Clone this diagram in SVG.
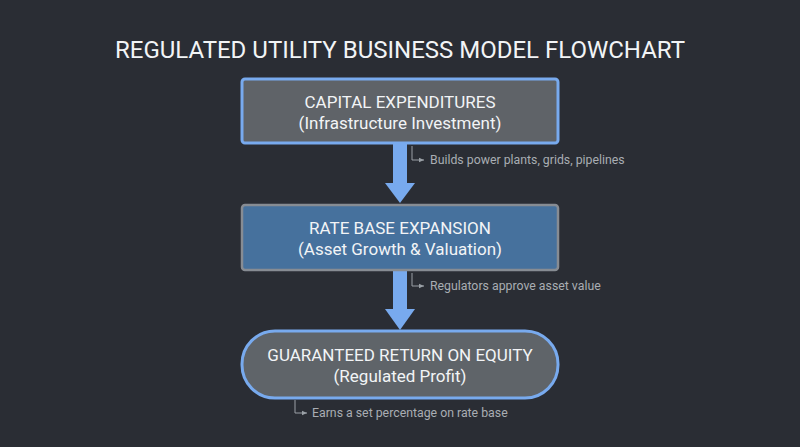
<svg xmlns="http://www.w3.org/2000/svg" width="800" height="447" viewBox="0 0 800 447">
<defs>
<style>
text{font-family:Roboto,"Liberation Sans",sans-serif;text-anchor:middle;fill:#f2f4f6}
.n{font-size:17px}
.a{font-size:12.3px;fill:#a9adb3;text-anchor:start}
.br{fill:none;stroke:#9aa0a6;stroke-width:1}
.sh{fill:#78aaee}
</style>
<marker id="m" markerWidth="6" markerHeight="6" refX="5" refY="3" orient="auto"><path d="M0,0.8 L5,3 L0,5.2z" fill="#9aa0a6"/></marker>
</defs>
<rect width="800" height="447" fill="#2a2d34"/>
<text x="400" y="58" style="font-size:24px" fill="#fff">REGULATED UTILITY BUSINESS MODEL FLOWCHART</text>
<g id="connectors">
<rect class="sh" x="393" y="144" width="14" height="42"/>
<path class="sh" d="M385,183 L415,183 L400,203z"/>
<rect class="sh" x="393" y="271" width="14" height="40"/>
<path class="sh" d="M385,309 L415,309 L400,330z"/>
</g>
<g id="capex">
<rect x="242" y="79" width="316" height="64" rx="3" fill="#5f6368" stroke="#78aaee" stroke-width="3"/>
<text class="n" x="400" y="108">CAPITAL EXPENDITURES</text>
<text class="n" x="400" y="129">(Infrastructure Investment)</text>
</g>
<g id="ratebase">
<rect x="242" y="205" width="316" height="65" rx="3" fill="#46719d" stroke="#878c93" stroke-width="2.5"/>
<text class="n" x="400" y="234">RATE BASE EXPANSION</text>
<text class="n" x="400" y="255">(Asset Growth &amp; Valuation)</text>
</g>
<g id="roe">
<rect x="242" y="331" width="316" height="67" rx="33" fill="#5f6469" stroke="#78aaee" stroke-width="3"/>
<text class="n" x="400" y="361">GUARANTEED RETURN ON EQUITY</text>
<text class="n" x="400" y="382">(Regulated Profit)</text>
</g>
<g id="notes">
<path class="br" d="M412,146 V160 H424" marker-end="url(#m)"/>
<text class="a" x="430" y="164">Builds power plants, grids, pipelines</text>
<path class="br" d="M412,273 V286 H424" marker-end="url(#m)"/>
<text class="a" x="430" y="290">Regulators approve asset value</text>
<path class="br" d="M295,400 V413 H307" marker-end="url(#m)"/>
<text class="a" x="312" y="417">Earns a set percentage on rate base</text>
</g>
</svg>
